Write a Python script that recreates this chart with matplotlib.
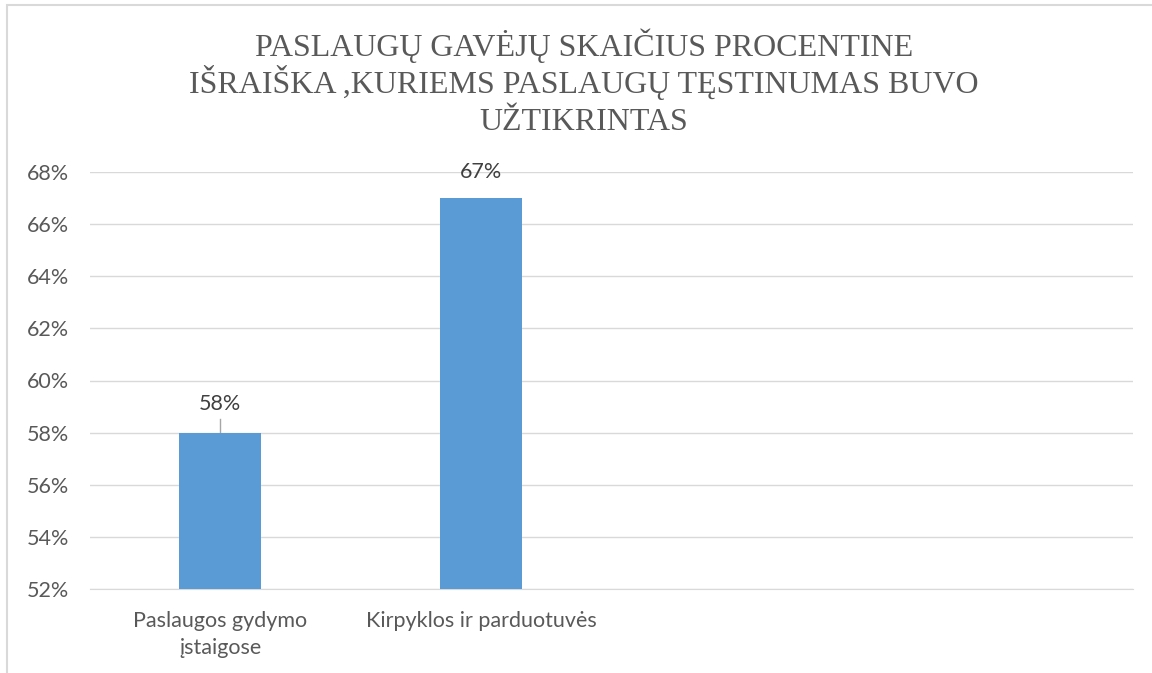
# Bar chart: service continuity share
import matplotlib.pyplot as plt
from matplotlib import patches
import numpy as np

categories = ["Paslaugos gydymo\nįstaigose", "Kirpyklos ir parduotuvės", "", ""]
values = [58, 67, None, None]
yticks = [52, 54, 56, 58, 60, 62, 64, 66, 68]
title_lines = ["PASLAUGŲ GAVĖJŲ SKAIČIUS PROCENTINE",
               "IŠRAIŠKA ,KURIEMS PASLAUGŲ TĘSTINUMAS BUVO",
               "UŽTIKRINTAS"]

GRAY = "#595959"
GRID = "#d9d9d9"
BLUE = "#5b9bd5"
FS = 15.5

fig = plt.figure(figsize=(11.52, 6.73), dpi=100)
ax = fig.add_axes([90/1152, 1 - 589/673, (1133-90)/1152, (589-172)/673])

# chart border (only left/top visible in the reference)
fig.patches.append(patches.Rectangle((7/1152, -0.1), 1.2, 1 - 5/673 + 0.1,
                   transform=fig.transFigure, fill=False, ec=GRID, lw=1.5))

x = np.arange(len(categories))
for xi, v in zip(x, values):
    if v is None:
        continue
    ax.bar(xi, v - 52, bottom=52, width=0.315, color=BLUE, zorder=3)

# data labels, first one was moved up so it has a leader line
offsets = [29, 26]
for xi, v, off in zip(x, values, offsets):
    ax.annotate(f"{v}%", (xi, v), xytext=(0, off * 0.72), textcoords="offset points",
                ha="center", va="center", fontsize=FS, color="#404040", family="Lato")
ax.plot([0, 0], [values[0], values[0] + 14 / (417 / 16)], color="#a6a6a6", lw=1, zorder=2)

ax.set_xlim(-0.5, len(categories) - 0.5)
ax.set_ylim(52, 68)
ax.set_yticks(yticks)
ax.set_yticklabels([f"{t}%" for t in yticks])
ax.set_xticks(x)
ax.set_xticklabels(categories, linespacing=1.45)
ax.grid(axis="y", color=GRID, lw=1, zorder=0)
for s in ["top", "right", "left"]:
    ax.spines[s].set_visible(False)
ax.spines["bottom"].set_color(GRID)
ax.tick_params(length=0, labelsize=FS, labelcolor=GRAY)
ax.tick_params(axis="y", pad=15)
ax.tick_params(axis="x", pad=16)
for lab in ax.get_xticklabels() + ax.get_yticklabels():
    lab.set_family("Lato")

for line, base in zip(title_lines, [56, 93, 130]):
    fig.text(0.507, 1 - base/673, line, ha="center", va="baseline", fontsize=23,
             family="Liberation Serif", color=GRAY)

fig.savefig("out.png", dpi=100)
